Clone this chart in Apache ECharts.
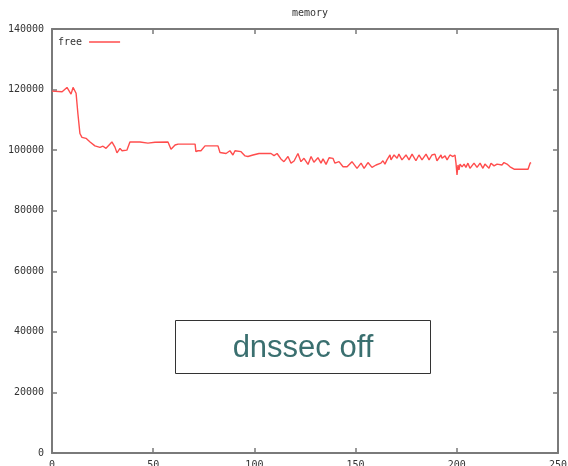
<!DOCTYPE html>
<html>
<head>
<meta charset="utf-8">
<script src="https://cdn.jsdelivr.net/npm/echarts@6/dist/echarts.min.js"></script>
<style>
	html, body { margin: 0; padding: 0; background: #fff; }
	#chart { width: 568px; height: 466px; }
</style>
</head>
<body>
<div id="chart"></div>
<script>
// sample time (x) and free memory readings
const timeX = [
	0, 5, 7.4, 9.4, 10.4, 11.9, 12.8, 13.8, 14.8, 16.8, 18.8, 21.2, 23.7, 25.2, 26.7, 29.6,
	31.1, 32.1, 33.6, 34.6, 37, 38.5, 43.5, 47.4, 50.9, 57.3, 58.8, 60.8, 62.3, 70.7, 71.1,
	72.1, 73.6, 75.6, 82, 83, 86, 87.9, 89.4, 90.4, 93.4, 95.4, 96.8, 99.3, 102.3, 104.2,
	104.7, 105.7, 108.2, 109.7, 111.2, 113.1, 114.6, 116.6, 118.1, 119.6, 121.5, 123, 124.5,
	126.5, 128, 129.4, 131.4, 132.9, 133.9, 135.4, 136.9, 138.8, 139.8, 141.8, 143.8, 145.8,
	148.2, 150.7, 152.7, 154.2, 156.1, 158.1, 160.1, 162.5, 163.5, 164.5, 165.5, 167, 167.5,
	169, 170.5, 171.4, 172.9, 174.9, 176.4, 177.9, 179.8, 181.3, 182.8, 184.8, 186.3, 187.7,
	189.2, 190.2, 192.2, 192.7, 194.2, 195.2, 196.6, 198.1, 199.1, 199.6, 200.1, 200.6, 201.1,
	201.6, 202.6, 203.6, 204.5, 205.5, 206.5, 208.5, 210, 211.5, 212.9, 213.9, 215.9, 216.9,
	218.4, 219.9, 220.8, 222.3, 223.3, 224.8, 226.3, 228.3, 235.2, 236.2, 236.7
];
const freeMem = [
	119500, 119300, 120700, 118500, 120700, 118800, 112000, 105500, 104200, 103900, 102700,
	101400, 100900, 101300, 100600, 102700, 101000, 99100, 100600, 99800, 100000, 102700,
	102700, 102300, 102600, 102700, 100300, 101700, 102000, 102000, 99500, 99800, 99800,
	101400, 101400, 99200, 98900, 99800, 98400, 99800, 99500, 98100, 97900, 98400, 98900,
	98900, 98600, 98900, 98900, 98200, 98900, 97100, 96200, 97900, 95700, 96400, 98900,
	96200, 97300, 95300, 97900, 96000, 97500, 95700, 97100, 95300, 97500, 97300, 95700,
	96200, 94500, 94500, 96200, 94000, 95700, 94000, 95900, 94300, 95100, 95700, 96500,
	95400, 96800, 98400, 96800, 98400, 97300, 98700, 96800, 98400, 96800, 98700, 96500,
	98400, 96800, 98700, 96800, 98400, 98700, 96500, 98400, 97300, 98100, 96800, 98400,
	97900, 98400, 95700, 91800, 95100, 93500, 95400, 94500, 95400, 94300, 95700, 94000,
	95700, 94300, 95700, 94000, 95400, 94000, 95700, 94800, 95400, 95900, 95100, 95900,
	95400, 94500, 93700, 93700, 95700, 95900
];
const xTicks = { min: 0, max: 250, interval: 50 };
const yTicks = { min: 0, max: 140000, interval: 20000 };

const lineData = timeX.map((x, i) => [x, freeMem[i]]);

const monoFont = "DejaVu Sans Mono";
const borderColor = "#7a7a7a";

function axisBase(extra) {
	return {
		type: "value",
		splitLine: { show: false },
		axisLine: { show: true, onZero: false, lineStyle: { color: borderColor, width: 2 } },
		axisTick: { show: true, inside: true, length: 5, lineStyle: { color: borderColor, width: 1.5 } },
		axisLabel: {
			color: "#333",
			fontFamily: monoFont,
			fontSize: 10,
			formatter: v => String(v)
		},
		...extra
	};
}

const chart = echarts.init(document.getElementById("chart"));
chart.setOption({
	animation: false,
	backgroundColor: "#fff",
	title: {
		text: "memory",
		left: 305,
		textAlign: "center",
		top: 3,
		textStyle: { fontFamily: monoFont, fontSize: 10, fontWeight: "normal", color: "#333" }
	},
	legend: {
		left: 53,
		top: 32,
		align: "right",
		icon: "rect",
		itemWidth: 31,
		itemHeight: 1.5,
		itemGap: 6,
		textStyle: { fontFamily: monoFont, fontSize: 10, color: "#333", padding: [0, 2, 0, 0] },
		data: ["free"]
	},
	grid: { left: 52, right: 10, top: 29, bottom: 13, containLabel: false, outerBoundsMode: "none" },
	xAxis: [
		axisBase({ position: "bottom", ...xTicks, axisLabel: { color: "#333", fontFamily: monoFont, fontSize: 10, margin: 7, formatter: v => String(v) } }),
		axisBase({ position: "top", ...xTicks, axisLabel: { show: false } })
	],
	yAxis: [
		axisBase({ position: "left", ...yTicks }),
		axisBase({ position: "right", ...yTicks, axisLabel: { show: false } })
	],
	series: [
		{
			name: "free",
			type: "line",
			data: lineData,
			showSymbol: false,
			symbol: "none",
			lineStyle: { color: "#ff4d4d", width: 1.4 },
			itemStyle: { color: "#ff4d4d" }
		}
	],
	graphic: [
		{
			type: "group",
			left: 175,
			top: 320,
			children: [
				{
					type: "rect",
					shape: { x: 0, y: 0, width: 255, height: 53 },
					style: { fill: "#fff", stroke: "#333", lineWidth: 1 }
				},
				{
					type: "text",
					x: 127.5,
					y: 28,
					style: {
						text: "dnssec off",
						fill: "#3a6f6f",
						font: "31px 'Liberation Sans', Arial, sans-serif",
						textAlign: "center",
						textVerticalAlign: "middle"
					}
				}
			]
		}
	]
});
</script>
</body>
</html>
